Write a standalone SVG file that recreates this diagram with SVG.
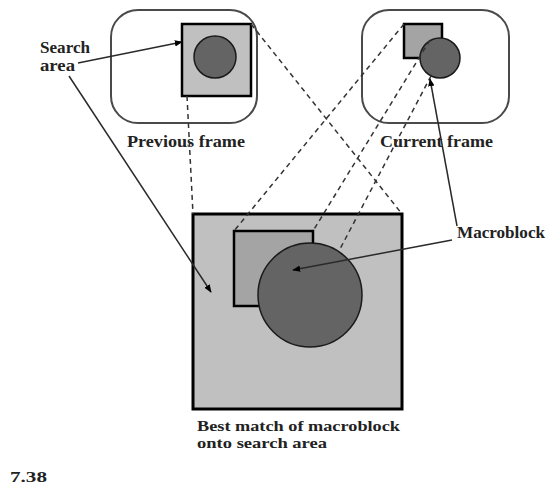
<svg xmlns="http://www.w3.org/2000/svg" width="546" height="485" viewBox="0 0 546 485">
<defs>
<style>
.frame{fill:none;stroke:#4a4a4a;stroke-width:2}
.sq{stroke:#000;stroke-width:2.5}
.light{fill:#c0c0c0}
.mid{fill:#a4a4a4}
.blob{fill:#646464;stroke:#1a1a1a;stroke-width:1.5}
.dash{fill:none;stroke:#333;stroke-width:1.5;stroke-dasharray:5 4}
.solid{fill:none;stroke:#2a2a2a;stroke-width:1.5}
text{font-family:"Liberation Serif","Times New Roman",serif;font-weight:bold;font-size:16px;fill:#222}
.small{font-size:14px}
</style>
<marker id="ah" viewBox="0 0 10 10" refX="9" refY="5" markerWidth="8" markerHeight="8" markerUnits="userSpaceOnUse" orient="auto">
<path d="M0,1 L10,5 L0,9 z" fill="#000"/>
</marker>
</defs>
<rect width="546" height="485" fill="#fff"/>
<g id="previous-frame">
<rect class="frame" x="111" y="10" width="146" height="113" rx="27"/>
<rect class="sq light" x="182" y="24" width="69" height="72"/>
<circle class="blob" cx="215" cy="57" r="21"/>
<text x="127" y="147" textLength="118" lengthAdjust="spacingAndGlyphs">Previous frame</text>
</g>
<g id="current-frame">
<rect class="frame" x="362" y="10" width="147" height="113" rx="27"/>
<rect class="sq mid" x="404" y="24" width="38" height="34"/>
<circle class="blob" cx="440" cy="58" r="20"/>
<text x="380" y="147" textLength="113" lengthAdjust="spacingAndGlyphs">Current frame</text>
</g>
<g id="best-match">
<rect class="sq light" x="193" y="214" width="209" height="195" style="stroke-width:3"/>
<rect class="sq mid" x="234" y="231" width="79" height="75"/>
<circle class="blob" cx="310" cy="295" r="52"/>
<text class="small" x="197" y="431" textLength="203" lengthAdjust="spacingAndGlyphs">Best match of macroblock</text>
<text class="small" x="197" y="448" textLength="130" lengthAdjust="spacingAndGlyphs">onto search area</text>
</g>
<g id="search-area-label">
<text x="40" y="53" textLength="50" lengthAdjust="spacingAndGlyphs">Search</text>
<text x="40" y="71" textLength="35" lengthAdjust="spacingAndGlyphs">area</text>
</g>
<g id="macroblock-label">
<text x="457" y="238" textLength="88" lengthAdjust="spacingAndGlyphs">Macroblock</text>
</g>
<g id="figure-number">
<text class="small" x="10" y="482" textLength="37" lengthAdjust="spacingAndGlyphs">7.38</text>
</g>
<g id="connectors">
<line class="dash" x1="187" y1="96" x2="193" y2="214"/>
<line class="dash" x1="251" y1="24" x2="402" y2="214"/>
<line class="dash" x1="404" y1="24" x2="234" y2="231"/>
<line class="dash" x1="430" y1="40" x2="313" y2="231"/>
<line class="dash" x1="431" y1="76" x2="340" y2="249"/>
<line class="solid" x1="78" y1="63" x2="182" y2="42" marker-end="url(#ah)"/>
<line class="solid" x1="69" y1="76" x2="211" y2="292" marker-end="url(#ah)"/>
<line class="solid" x1="452" y1="240" x2="293" y2="270" marker-end="url(#ah)"/>
<line class="solid" x1="457" y1="226" x2="430" y2="79" marker-end="url(#ah)"/>
</g>
</svg>
